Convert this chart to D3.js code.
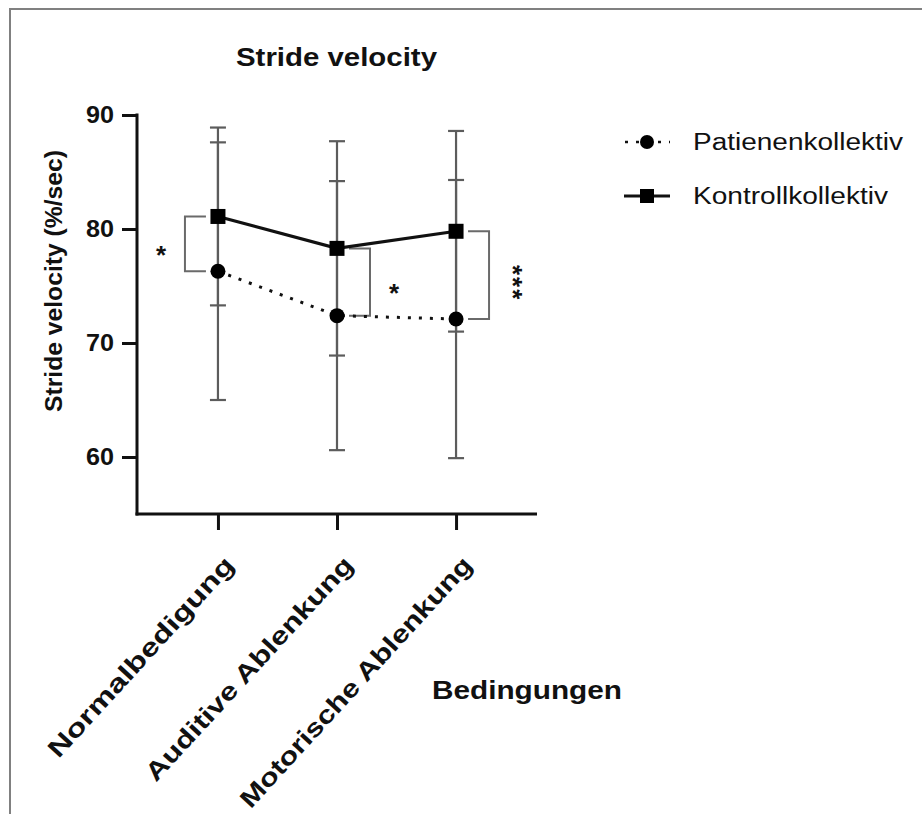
<!DOCTYPE html>
<html>
<head>
<meta charset="utf-8">
<script src="https://cdn.jsdelivr.net/npm/d3@7"></script>
<style>
  html, body { margin: 0; padding: 0; background: #fff; }
  svg { display: block; }
  text { font-family: "Liberation Sans", Arial, Helvetica, sans-serif; fill: #111; }
</style>
</head>
<body>
<svg id="chart" width="922" height="814"></svg>
<script>
// Conditions on the x axis
const categories = ["Normalbedigung", "Auditive Ablenkung", "Motorische Ablenkung"];

// Patient group: mean and SD per condition
const patientMean = [76.3, 72.4, 72.1];
const patientSD   = [11.3, 11.8, 12.2];

// Control group: mean and SD per condition
const controlMean = [81.1, 78.3, 79.8];
const controlSD   = [7.8, 9.4, 8.8];

// Y axis ticks
const yTicks = [60, 70, 80, 90];

// Significance annotations between groups per condition
const sigCategory = [0, 1, 2];
const sigSide     = ["left", "right", "right"];
const sigLabel    = ["*", "*", "***"];

const seriesNames = ["Patienenkollektiv", "Kontrollkollektiv"];

const svg = d3.select("#chart");
const axisX0 = 137, axisX1 = 537, axisYTop = 115, axisYBottom = 514;

const x = d3.scalePoint().domain(categories).range([axisX0, axisX1]).padding(0.68);
const y = d3.scaleLinear().domain([55, 90]).range([axisYBottom, axisYTop]);

// Outer frame
svg.append("path")
  .attr("d", "M10,814 L10,9 L922,9")
  .attr("fill", "none").attr("stroke", "#808080").attr("stroke-width", 2);

// Title
svg.append("text")
  .attr("x", 236).attr("y", 66)
  .attr("font-size", 26).attr("font-weight", "bold")
  .attr("textLength", 201).attr("lengthAdjust", "spacingAndGlyphs")
  .text("Stride velocity");

// Y axis
const yAxis = d3.axisLeft(y).tickValues(yTicks).tickSize(15).tickPadding(8).tickSizeOuter(0);
const gy = svg.append("g").attr("transform", `translate(${axisX0},0)`).call(yAxis);
gy.select(".domain").remove();
gy.append("line").attr("x1", 0).attr("x2", 0).attr("y1", axisYTop - 1.5).attr("y2", axisYBottom + 1.5)
  .attr("stroke", "#111").attr("stroke-width", 3);
gy.selectAll(".tick line").attr("stroke", "#111").attr("stroke-width", 3);
gy.selectAll(".tick text")
  .attr("font-size", 24).attr("font-weight", "bold").attr("fill", "#111")
  .attr("font-family", "Liberation Sans, Arial, sans-serif")
  .attr("textLength", 28).attr("lengthAdjust", "spacingAndGlyphs");

// X axis
const xAxis = d3.axisBottom(x).tickSize(16).tickSizeOuter(0).tickFormat("");
const gx = svg.append("g").attr("transform", `translate(0,${axisYBottom})`).call(xAxis);
gx.select(".domain").remove();
gx.append("line").attr("x1", axisX0 - 1.5).attr("x2", axisX1).attr("y1", 0).attr("y2", 0)
  .attr("stroke", "#111").attr("stroke-width", 3);
gx.selectAll(".tick line").attr("stroke", "#111").attr("stroke-width", 3);

// Rotated category labels
const catLen = { "Normalbedigung": 262, "Auditive Ablenkung": 294, "Motorische Ablenkung": 330 };
const catAngle = -47.5;
svg.append("g").selectAll("text").data(categories).join("text")
  .attr("transform", d => `translate(${x(d) + 11},${560}) rotate(${catAngle})`)
  .attr("text-anchor", "end").attr("dominant-baseline", "central")
  .attr("font-size", 25).attr("font-weight", "bold")
  .attr("textLength", d => catLen[d]).attr("lengthAdjust", "spacingAndGlyphs")
  .text(d => d);

// X axis title
svg.append("text")
  .attr("x", 432).attr("y", 699)
  .attr("font-size", 25).attr("font-weight", "bold")
  .attr("textLength", 190).attr("lengthAdjust", "spacingAndGlyphs")
  .text("Bedingungen");

// Y axis title
svg.append("text")
  .attr("transform", `translate(62,${281}) rotate(-90)`)
  .attr("text-anchor", "middle")
  .attr("font-size", 23).attr("font-weight", "bold")
  .attr("textLength", 262).attr("lengthAdjust", "spacingAndGlyphs")
  .text("Stride velocity (%/sec)");

const patient = categories.map((c, i) => ({ c, m: patientMean[i], sd: patientSD[i] }));
const control = categories.map((c, i) => ({ c, m: controlMean[i], sd: controlSD[i] }));

const errColor = "#5c5c5c";
const capHalf = 8;

// Error bars (mean ± SD) for both groups
function errorBars(data) {
  const g = svg.append("g").attr("stroke", errColor).attr("stroke-width", 2.2);
  g.selectAll("line.v").data(data).join("line").attr("class", "v")
    .attr("x1", d => x(d.c)).attr("x2", d => x(d.c))
    .attr("y1", d => y(d.m + d.sd)).attr("y2", d => y(d.m - d.sd));
  g.selectAll("line.t").data(data).join("line").attr("class", "t")
    .attr("x1", d => x(d.c) - capHalf).attr("x2", d => x(d.c) + capHalf)
    .attr("y1", d => y(d.m + d.sd)).attr("y2", d => y(d.m + d.sd));
  g.selectAll("line.b").data(data).join("line").attr("class", "b")
    .attr("x1", d => x(d.c) - capHalf).attr("x2", d => x(d.c) + capHalf)
    .attr("y1", d => y(d.m - d.sd)).attr("y2", d => y(d.m - d.sd));
}
errorBars(patient);
errorBars(control);

// Significance brackets between the two group means
const brGap = 12, brWidth = 21;
const sig = sigCategory.map((ci, k) => ({
  c: categories[ci], top: controlMean[ci], bottom: patientMean[ci], side: sigSide[k], label: sigLabel[k]
}));
const gb = svg.append("g").attr("fill", "none").attr("stroke", "#6a6a6a").attr("stroke-width", 2);
sig.forEach(s => {
  const cx = x(s.c);
  const dir = s.side === "left" ? -1 : 1;
  const xin = cx + dir * brGap, xout = cx + dir * (brGap + brWidth);
  gb.append("path")
    .attr("d", `M${xin},${y(s.top)} L${xout},${y(s.top)} L${xout},${y(s.bottom)} L${xin},${y(s.bottom)}`);
});
sig.forEach(s => {
  const cx = x(s.c);
  const dir = s.side === "left" ? -1 : 1;
  const sx = cx + dir * 57;
  const sy = (y(s.top) + y(s.bottom)) / 2 + (s.label.length > 1 ? 8 : 3);
  svg.append("text")
    .attr("transform", s.label.length > 1 ? `translate(${sx},${sy}) rotate(90)` : `translate(${sx},${sy})`)
    .attr("text-anchor", "middle").attr("dominant-baseline", "central")
    .attr("dy", s.label.length > 1 ? "0" : "0.3em")
    .attr("font-size", 26).attr("font-weight", "bold")
    .attr("letter-spacing", s.label.length > 1 ? 2 : 0)
    .text(s.label);
});

// Connecting lines
const line = d3.line().x(d => x(d.c)).y(d => y(d.m));
svg.append("path").datum(patient).attr("d", line)
  .attr("fill", "none").attr("stroke", "#111").attr("stroke-width", 3)
  .attr("stroke-dasharray", "3 8");
svg.append("path").datum(control).attr("d", line)
  .attr("fill", "none").attr("stroke", "#111").attr("stroke-width", 3.2);

// Markers
svg.append("g").selectAll("circle").data(patient).join("circle")
  .attr("cx", d => x(d.c)).attr("cy", d => y(d.m)).attr("r", 7.5).attr("fill", "#000");
const sq = 15;
svg.append("g").selectAll("rect").data(control).join("rect")
  .attr("x", d => x(d.c) - sq / 2).attr("y", d => y(d.m) - sq / 2)
  .attr("width", sq).attr("height", sq).attr("fill", "#000");

// Legend
const legY = [142, 196];
const legLen = [210, 195];
const lg = svg.append("g");
lg.append("line").attr("x1", 625).attr("x2", 670).attr("y1", legY[0]).attr("y2", legY[0])
  .attr("stroke", "#111").attr("stroke-width", 2.5).attr("stroke-dasharray", "3 8");
lg.append("circle").attr("cx", 647).attr("cy", legY[0]).attr("r", 7).attr("fill", "#000");
lg.append("line").attr("x1", 624).attr("x2", 670).attr("y1", legY[1]).attr("y2", legY[1])
  .attr("stroke", "#111").attr("stroke-width", 3);
lg.append("rect").attr("x", 647 - 7).attr("y", legY[1] - 7).attr("width", 14).attr("height", 14).attr("fill", "#000");
lg.selectAll("text").data(seriesNames).join("text")
  .attr("x", 693).attr("y", (d, i) => legY[i])
  .attr("dominant-baseline", "central")
  .attr("font-size", 23).attr("fill", "#222")
  .attr("textLength", (d, i) => legLen[i]).attr("lengthAdjust", "spacingAndGlyphs")
  .text(d => d);
</script>
</body>
</html>
